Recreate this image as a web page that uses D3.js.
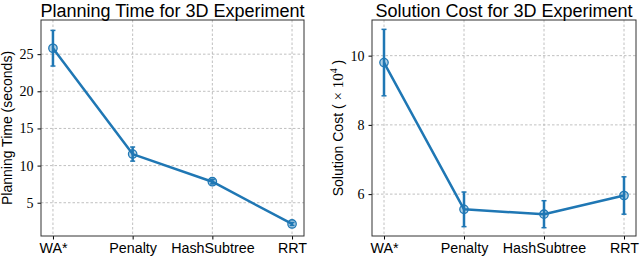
<!DOCTYPE html>
<html>
<head>
<meta charset="utf-8">
<script src="https://cdn.jsdelivr.net/npm/d3@7"></script>
<style>
  body { margin: 0; background: #fff; }
  svg text { fill: #000; }
</style>
</head>
<body>
<svg id="chart" width="640" height="258"></svg>
<script>
var methods = ["WA*", "Penalty", "HashSubtree", "RRT"];

var timeMean = [25.8, 11.55, 7.83, 2.14];
var timeErr = [2.4, 0.95, 0.3, 0.2];
var timeTicks = [5, 10, 15, 20, 25];

var costMean = [9.8, 5.56, 5.42, 5.96];
var costErr = [0.96, 0.5, 0.39, 0.54];
var costTicks = [6, 8, 10];

var blue = "#1f77b4";
var sans = "'Liberation Sans', Arial, sans-serif";
var serif = "'Liberation Serif', 'DejaVu Serif', serif";

var svg = d3.select("#chart");

var drawPanel = function(opts) {
  var x = d3.scaleLinear().domain([-0.15, 3.15]).range([opts.left, opts.right]);
  var y = d3.scaleLinear().domain(opts.yDomain).range([opts.bottom, opts.top]);
  var g = svg.append("g");

  // grid
  g.selectAll("line.gx").data(methods).enter().append("line")
    .attr("x1", function(d, i) { return x(i); }).attr("x2", function(d, i) { return x(i); })
    .attr("y1", opts.top).attr("y2", opts.bottom)
    .attr("style", "stroke:#b0b0b0; stroke-width:0.8; stroke-dasharray:2.5,2");
  g.selectAll("line.gy").data(opts.ticks).enter().append("line")
    .attr("y1", function(d) { return y(d); }).attr("y2", function(d) { return y(d); })
    .attr("x1", opts.left).attr("x2", opts.right)
    .attr("style", "stroke:#b0b0b0; stroke-width:0.8; stroke-dasharray:2.5,2");

  // axes
  var xAxis = g.append("g").attr("transform", "translate(0," + opts.bottom + ")")
    .call(d3.axisBottom(x).tickValues([0, 1, 2, 3]).tickFormat(function(d) { return methods[d]; })
      .tickSize(3.5).tickPadding(3));
  xAxis.select(".domain").remove();
  xAxis.selectAll("text").attr("font-family", sans).attr("font-size", 14.3).attr("fill", "#000");

  var yAxis = g.append("g").attr("transform", "translate(" + opts.left + ",0)")
    .call(d3.axisLeft(y).tickValues(opts.ticks).tickFormat(d3.format("d")).tickSize(3.5).tickPadding(4));
  yAxis.select(".domain").remove();
  yAxis.selectAll("text").attr("font-family", serif).attr("font-size", 14).attr("fill", "#333");

  g.append("rect").attr("x", opts.left).attr("y", opts.top)
    .attr("width", opts.right - opts.left).attr("height", opts.bottom - opts.top)
    .attr("style", "fill:none; stroke:#333; stroke-width:1");

  // error bars
  g.selectAll("line.err").data(opts.mean).enter().append("line")
    .attr("x1", function(d, i) { return x(i); }).attr("x2", function(d, i) { return x(i); })
    .attr("y1", function(d, i) { return y(d - opts.err[i]); })
    .attr("y2", function(d, i) { return y(d + opts.err[i]); })
    .attr("style", "stroke:" + blue + "; stroke-width:2.5");
  [-1, 1].forEach(function(s) {
    g.selectAll("line.cap").data(opts.mean).enter().append("line")
      .attr("x1", function(d, i) { return x(i) - 2.5; }).attr("x2", function(d, i) { return x(i) + 2.5; })
      .attr("y1", function(d, i) { return y(d + s * opts.err[i]); })
      .attr("y2", function(d, i) { return y(d + s * opts.err[i]); })
      .attr("style", "stroke:" + blue + "; stroke-width:1.5");
  });

  var line = d3.line().x(function(d, i) { return x(i); }).y(function(d) { return y(d); });
  g.append("path").datum(opts.mean).attr("d", line)
    .attr("style", "fill:none; stroke:" + blue + "; stroke-width:2.5; stroke-linejoin:round");

  g.selectAll("circle.pt").data(opts.mean).enter().append("circle")
    .attr("cx", function(d, i) { return x(i); }).attr("cy", function(d) { return y(d); })
    .attr("r", 4.2)
    .attr("style", "fill:" + blue + "; fill-opacity:0.35; stroke:" + blue + "; stroke-width:1.3");

  // title
  g.append("text").attr("x", (opts.left + opts.right) / 2).attr("y", 16.5)
    .attr("text-anchor", "middle").attr("font-family", sans).attr("font-size", 18)
    .text(opts.title);

  // y label
  var yl = g.append("text")
    .attr("transform", "translate(" + opts.labelX + "," + (opts.top + opts.bottom) / 2 + ") rotate(-90)")
    .attr("text-anchor", "middle").attr("font-family", sans).attr("font-size", 14);
  opts.label(yl);
};

drawPanel({
  left: 41, right: 304, top: 20, bottom: 236,
  yDomain: [0.52, 29.6], ticks: timeTicks,
  mean: timeMean, err: timeErr,
  title: "Planning Time for 3D Experiment",
  labelX: 12,
  label: function(t) { t.text("Planning Time (seconds)"); }
});

drawPanel({
  left: 372, right: 636, top: 20, bottom: 236,
  yDomain: [4.79, 11.03], ticks: costTicks,
  mean: costMean, err: costErr,
  title: "Solution Cost for 3D Experiment",
  labelX: 343,
  label: function(t) {
    t.append("tspan").text("Solution Cost ( ");
    t.append("tspan").attr("font-family", serif).attr("font-size", 15).text("\u00d7 10");
    t.append("tspan").attr("font-family", serif).attr("font-size", 10).attr("dy", -6).text("4");
    t.append("tspan").attr("dy", 6).text(" )");
  }
});
</script>
</body>
</html>
